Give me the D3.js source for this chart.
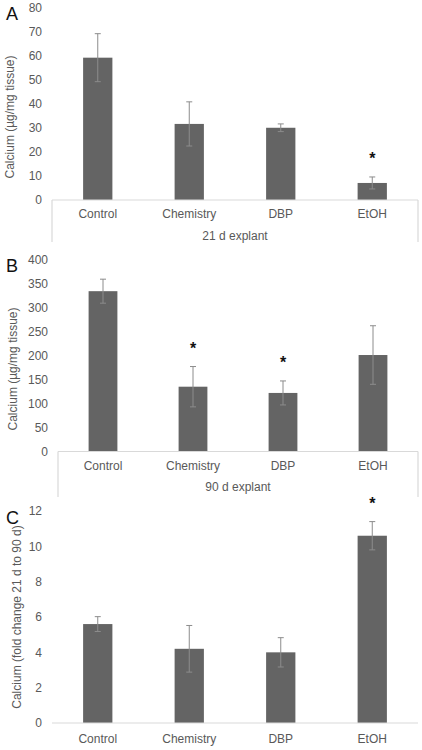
<!DOCTYPE html>
<html>
<head>
<meta charset="utf-8">
<script src="https://cdn.jsdelivr.net/npm/d3@7"></script>
<style>
  html, body { margin: 0; padding: 0; background: #fff; }
  svg { display: block; font-family: "Liberation Sans", Arial, sans-serif; }
</style>
</head>
<body>
<svg id="chart" width="422" height="750"></svg>
<script>
// ---- Data ----
const categories = ["Control", "Chemistry", "DBP", "EtOH"];

const valuesA = [59.3, 31.7, 30.1, 7.1];
const errorsA = [10.0, 9.2, 1.6, 2.5];
const sigA = [false, false, false, true];
const ticksA = [0, 10, 20, 30, 40, 50, 60, 70, 80];

const valuesB = [334, 135, 122, 201];
const errorsB = [25, 42, 25, 61];
const sigB = [false, true, true, false];
const ticksB = [0, 50, 100, 150, 200, 250, 300, 350, 400];

const valuesC = [5.6, 4.2, 4.0, 10.6];
const errorsC = [0.42, 1.32, 0.83, 0.8];
const sigC = [false, false, false, true];
const ticksC = [0, 2, 4, 6, 8, 10, 12];

const panels = [
  { letter: "A", values: valuesA, errors: errorsA, sig: sigA, ticks: ticksA,
    yLabel: "Calcium (µg/mg tissue)", group: "21 d explant",
    x0: 52, x1: 418, yTop: 8, yBot: 200, yLabelX: 10, yLabelY: 117,
    letterX: 6, letterY: 20, catY: 214, groupY: 236, boxBottom: 242 },
  { letter: "B", values: valuesB, errors: errorsB, sig: sigB, ticks: ticksB,
    yLabel: "Calcium (µg/mg tissue)", group: "90 d explant",
    x0: 58, x1: 418, yTop: 259.5, yBot: 451.5, yLabelX: 13, yLabelY: 369,
    letterX: 6, letterY: 272, catY: 466, groupY: 487, boxBottom: 497 },
  { letter: "C", values: valuesC, errors: errorsC, sig: sigC, ticks: ticksC,
    yLabel: "Calcium (fold change 21 d to 90 d)", group: null,
    x0: 52, x1: 418, yTop: 511, yBot: 723, yLabelX: 17, yLabelY: 617,
    letterX: 6, letterY: 524, catY: 739, groupY: null, boxBottom: null }
];

const svg = d3.select("#chart");
const textColor = "#595959";
const lineColor = "#d9d9d9";
const barColor = "#646464";
const errColor = "#8c8c8c";

panels.forEach(p => {
  const g = svg.append("g");
  const maxTick = d3.max(p.ticks);
  const x = d3.scaleBand().domain(categories).range([p.x0, p.x1])
    .paddingInner(0.68).paddingOuter(0.34);
  const y = d3.scaleLinear().domain([0, maxTick]).range([p.yBot, p.yTop]);

  // y tick labels (no axis line)
  const yAxis = d3.axisLeft(y).tickValues(p.ticks).tickSize(0).tickPadding(10);
  const ya = g.append("g").attr("transform", `translate(${p.x0},0)`).call(yAxis);
  ya.select(".domain").remove();
  ya.selectAll("text").attr("fill", textColor).style("font-size", "12px")
    .style("font-family", "'Liberation Sans', Arial, sans-serif");

  // bars
  g.selectAll("rect.bar").data(categories).enter().append("rect")
    .attr("x", d => x(d))
    .attr("width", x.bandwidth())
    .attr("y", (d, i) => y(p.values[i]))
    .attr("height", (d, i) => y(0) - y(p.values[i]))
    .attr("fill", barColor);

  // error bars
  categories.forEach((c, i) => {
    const cx = x(c) + x.bandwidth() / 2;
    const hi = y(p.values[i] + p.errors[i]);
    const lo = y(p.values[i] - p.errors[i]);
    g.append("line").attr("x1", cx).attr("x2", cx).attr("y1", hi).attr("y2", lo)
      .attr("stroke", errColor).attr("stroke-width", 1);
    [hi, lo].forEach(yy => {
      g.append("line").attr("x1", cx - 3).attr("x2", cx + 3).attr("y1", yy).attr("y2", yy)
        .attr("stroke", errColor).attr("stroke-width", 1);
    });
    if (p.sig[i]) {
      g.append("text").attr("x", cx).attr("y", hi - 22 + 9)
        .attr("text-anchor", "middle").style("font-size", "16px")
        .style("font-weight", "bold")
        .attr("fill", "#111").text("*");
    }
  });

  // x axis (category labels)
  const xAxis = d3.axisBottom(x).tickSize(0).tickPadding(0);
  const xa = g.append("g").attr("transform", `translate(0,${p.yBot})`).call(xAxis);
  xa.select(".domain").remove();
  xa.selectAll("text").attr("fill", textColor).style("font-size", "12px")
    .style("font-family", "'Liberation Sans', Arial, sans-serif")
    .attr("y", p.catY - p.yBot).attr("dy", "0.35em");

  // baseline
  g.append("line").attr("x1", p.x0).attr("x2", p.x1).attr("y1", p.yBot).attr("y2", p.yBot)
    .attr("stroke", lineColor).attr("stroke-width", 1.2);

  // multi-level box
  if (p.group) {
    [p.x0, p.x1].forEach(xx => {
      g.append("line").attr("x1", xx).attr("x2", xx).attr("y1", p.yBot).attr("y2", p.boxBottom)
        .attr("stroke", lineColor).attr("stroke-width", 1.2);
    });
    g.append("text").attr("x", (p.x0 + p.x1) / 2).attr("y", p.groupY).attr("dy", "0.35em")
      .attr("text-anchor", "middle").attr("fill", textColor).style("font-size", "12px")
      .text(p.group);
  }

  // y label
  g.append("text")
    .attr("transform", `translate(${p.yLabelX},${p.yLabelY}) rotate(-90)`)
    .attr("text-anchor", "middle").attr("dy", "0.35em")
    .attr("fill", textColor).style("font-size", "12px")
    .text(p.yLabel);

  // panel letter
  g.append("text").attr("x", p.letterX).attr("y", p.letterY)
    .style("font-size", "18px").attr("fill", "#111").text(p.letter);
});
</script>
</body>
</html>
